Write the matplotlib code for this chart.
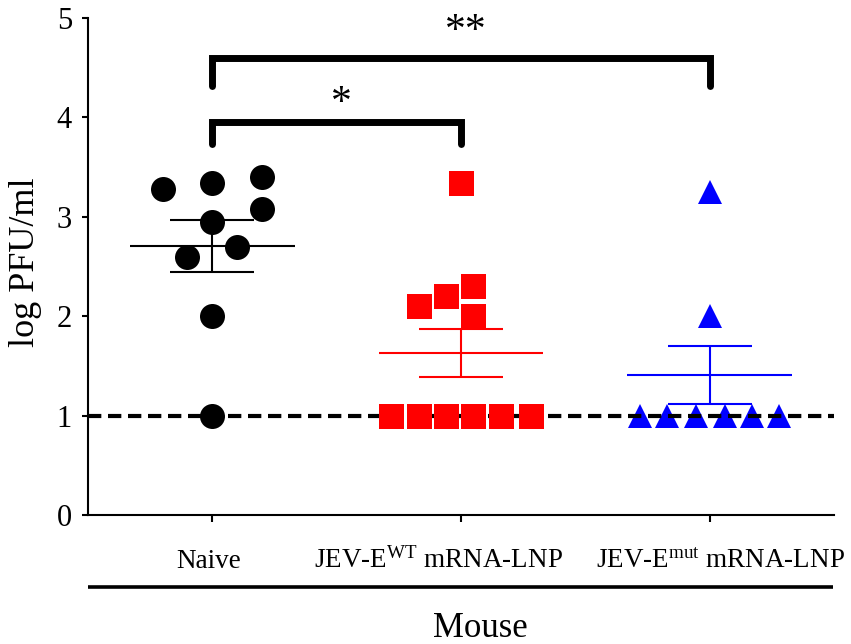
import numpy as np
import matplotlib
matplotlib.use("Agg")
import matplotlib.pyplot as plt

plt.rcParams['font.family'] = ['Liberation Serif', 'DejaVu Serif']
plt.rcParams['mathtext.fontset'] = 'custom'
plt.rcParams['mathtext.rm'] = 'Liberation Serif'
plt.rcParams['mathtext.it'] = 'Liberation Serif:italic'

# ---- data ----
categories = ["Naive", "JEV-E$^{\\mathrm{WT}}$ mRNA-LNP", "JEV-E$^{\\mathrm{mut}}$ mRNA-LNP"]
naive = [3.28, 3.34, 3.40, 3.08, 2.95, 2.70, 2.60, 2.00, 1.00]
wt = [3.34, 2.10, 2.20, 2.30, 2.00, 1.0, 1.0, 1.0, 1.0, 1.0, 1.0]
mut = [3.25, 2.00, 1.0, 1.0, 1.0, 1.0, 1.0, 1.0]
yticks = [0, 1, 2, 3, 4, 5]
detection_limit = 1.0
sig_labels = ["*", "**"]

# scatter layout offsets (beeswarm-style spreading)
naive_dx = [-0.2, 0.0, 0.2, 0.2, 0.0, 0.1, -0.1, 0.0, 0.0]
wt_dx = [0.0, -0.17, -0.06, 0.05, 0.05, -0.28, -0.17, -0.06, 0.05, 0.16, 0.28]
mut_dx = [0.0, 0.0, -0.28, -0.17, -0.055, 0.06, 0.17, 0.28]

groups = [naive, wt, mut]
offsets = [naive_dx, wt_dx, mut_dx]
colors = ['black', '#ff0000', '#0000ff']
markers = ['o', 's', '^']
msizes = [18, 18, 17.5]

fig = plt.figure(figsize=(8.51, 6.44), dpi=100)
ax = fig.add_axes([88/851, 129/644, 746/851, 497/644])

# detection limit line
ax.axhline(detection_limit, color='black', lw=3, linestyle=(0, (3.2, 1.6)), zorder=3)

for i, (vals, dx, c, m, ms) in enumerate(zip(groups, offsets, colors, markers, msizes)):
    vals = np.asarray(vals, float)
    xs = i + np.asarray(dx)
    z = 2 if m == '^' else 4
    ax.plot(xs, vals, linestyle='none', marker=m, ms=ms, color=c,
            markeredgewidth=0, zorder=z, clip_on=False)
    mean = vals.mean()
    sem = vals.std(ddof=1) / np.sqrt(len(vals))
    ax.hlines(mean, i - 0.331, i + 0.331, color=c, lw=1.5, zorder=5)
    ax.hlines([mean - sem, mean + sem], i - 0.169, i + 0.169, color=c, lw=1.5, zorder=5)
    ax.vlines(i, mean - sem, mean + sem, color=c, lw=1.5, zorder=5)

# significance brackets
brackets = [(0, 1, 3.73, 3.95, 0.52, 4.03, sig_labels[0]),
            (0, 2, 4.315, 4.60, 1.02, 4.76, sig_labels[1])]
for x0, x1, ylo, yhi, tx, ty, lab in brackets:
    ax.plot([x0, x0, x1, x1], [ylo, yhi, yhi, ylo], color='black', lw=5,
            solid_capstyle='round', solid_joinstyle='miter', clip_on=False, zorder=6)
    ax.text(tx, ty, lab, ha='center', va='baseline', fontsize=30)

ax.set_xlim(-0.5, 2.5)
ax.set_ylim(0, 5)
ax.set_yticks(yticks)
ax.set_yticklabels([str(t) for t in yticks])
ax.set_xticks([0, 1, 2])
ax.set_xticklabels([])

for s in ['top', 'right']:
    ax.spines[s].set_visible(False)
for s in ['left', 'bottom']:
    ax.spines[s].set_linewidth(1.5)
ax.tick_params(axis='y', direction='out', length=4.5, width=1.5, pad=7, labelsize=22)
ax.tick_params(axis='x', direction='out', length=5, width=1.5)

# category labels
label_shift = [-0.014, -0.092, 0.044]
xt = ax.get_xaxis_transform()
for i, (lab, sh) in enumerate(zip(categories, label_shift)):
    ax.text(i + sh, -0.1066, lab, transform=xt, ha='center', va='baseline', fontsize=19.5)

# group underline and group title
ax.plot([0, 0.9987], [-0.1449, -0.1449], transform=ax.transAxes, color='black',
        lw=2.6, clip_on=False, solid_capstyle='butt')
ax.text(1.076, -0.2455, "Mouse", transform=xt, ha='center', va='baseline', fontsize=25)

ax.set_ylabel("log PFU/ml", fontsize=26)
ax.yaxis.set_label_coords(-0.062, 0.509)

fig.savefig("out.png", dpi=100)
